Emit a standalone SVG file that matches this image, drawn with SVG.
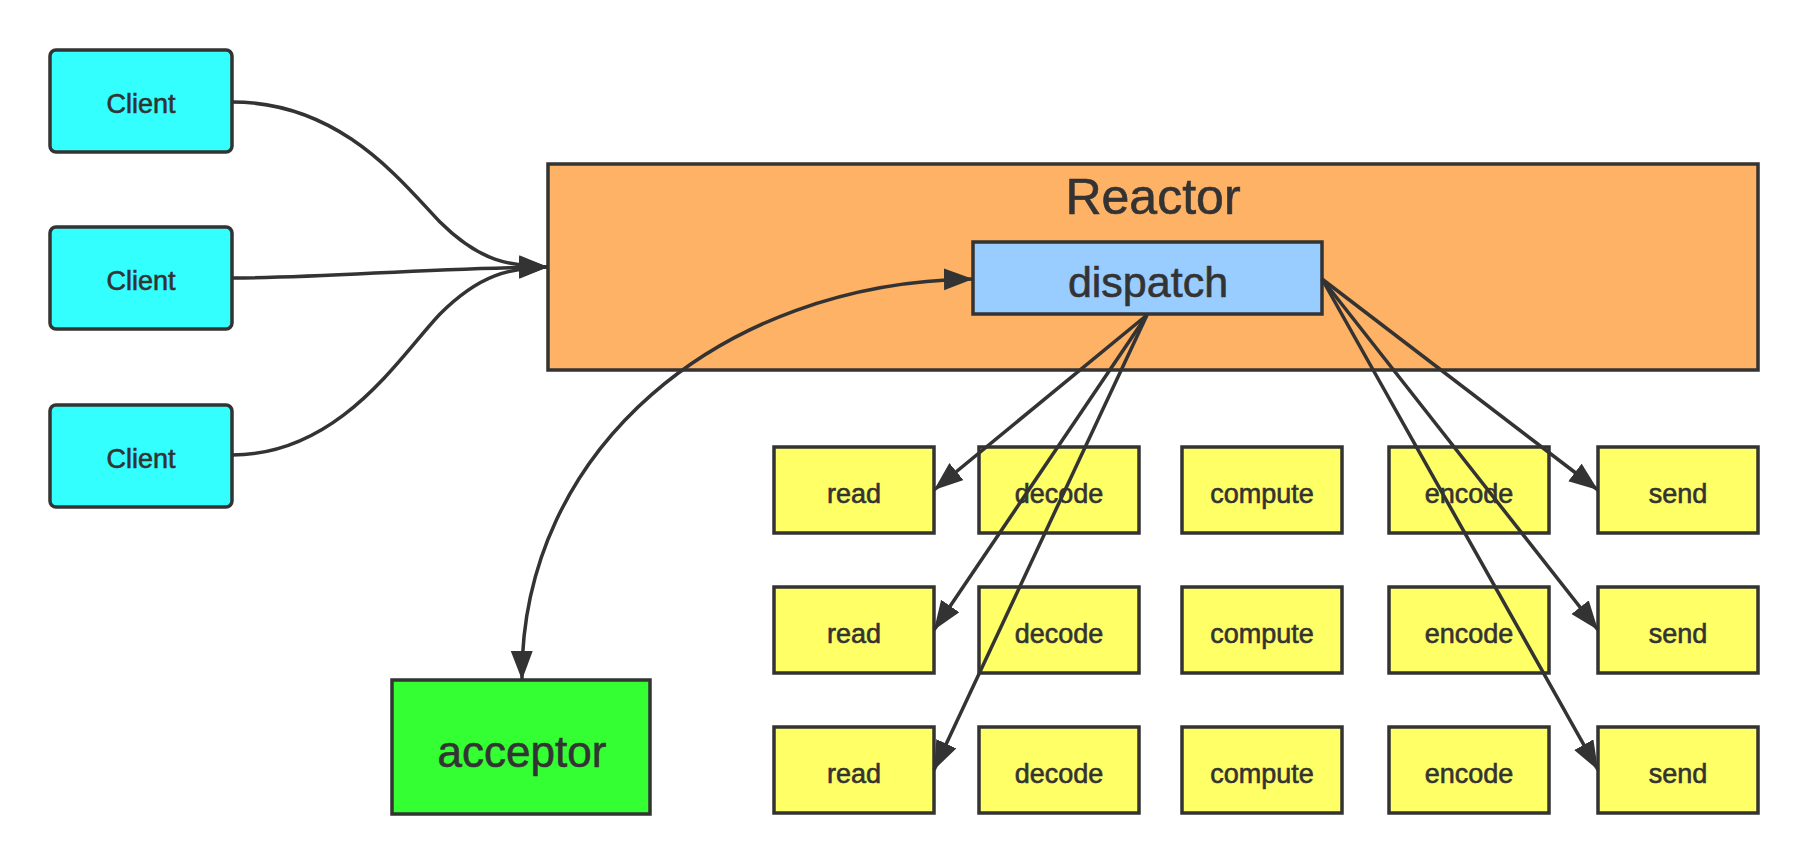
<svg xmlns="http://www.w3.org/2000/svg" width="1808" height="864" viewBox="0 0 1808 864">
<style>
.box{stroke:#333333;stroke-width:3.5}
.client{fill:#33FFFF}
.reactor{fill:#FDB266}
.disp{fill:#99CCFF}
.acc{fill:#33FF33}
.task{fill:#FFFF66}
text{font-family:"Liberation Sans",Arial,Helvetica,sans-serif;fill:#333333;stroke:#333333;stroke-width:0.6;text-anchor:middle}
.t26{font-size:27px}
.conn{fill:none;stroke:#333333;stroke-width:3.5}
</style>
<defs>
<marker id="ah" markerUnits="userSpaceOnUse" markerWidth="30" markerHeight="24" refX="29" refY="11" orient="auto">
<path d="M0,0 L29,11 L0,22 z" fill="#333333"/>
</marker>
<marker id="ahs" markerUnits="userSpaceOnUse" markerWidth="30" markerHeight="24" refX="29" refY="11" orient="auto-start-reverse">
<path d="M0,0 L29,11 L0,22 z" fill="#333333"/>
</marker>
</defs>
<rect width="1808" height="864" fill="#FFFFFF"/>
<g id="client1"><rect class="box client" x="50" y="50" width="182" height="102" rx="6"/><text class="t26" x="141" y="113">Client</text></g>
<g id="client2"><rect class="box client" x="50" y="227" width="182" height="102" rx="6"/><text class="t26" x="141" y="290">Client</text></g>
<g id="client3"><rect class="box client" x="50" y="405" width="182" height="102" rx="6"/><text class="t26" x="141" y="468">Client</text></g>
<g id="reactor"><rect class="box reactor" x="548" y="164" width="1210" height="206"/><text x="1153" y="214" style="font-size:50px">Reactor</text></g>
<g id="dispatch"><rect class="box disp" x="973" y="242" width="349" height="72"/><text x="1148" y="297" style="font-size:43px">dispatch</text></g>
<g id="acceptor"><rect class="box acc" x="392" y="680" width="258" height="134"/><text x="522" y="767" style="font-size:44px">acceptor</text></g>
<g id="read1"><rect class="box task" x="774" y="447" width="160" height="86"/><text class="t26" x="854" y="503">read</text></g>
<g id="decode1"><rect class="box task" x="979" y="447" width="160" height="86"/><text class="t26" x="1059" y="503">decode</text></g>
<g id="compute1"><rect class="box task" x="1182" y="447" width="160" height="86"/><text class="t26" x="1262" y="503">compute</text></g>
<g id="encode1"><rect class="box task" x="1389" y="447" width="160" height="86"/><text class="t26" x="1469" y="503">encode</text></g>
<g id="send1"><rect class="box task" x="1598" y="447" width="160" height="86"/><text class="t26" x="1678" y="503">send</text></g>
<g id="read2"><rect class="box task" x="774" y="587" width="160" height="86"/><text class="t26" x="854" y="643">read</text></g>
<g id="decode2"><rect class="box task" x="979" y="587" width="160" height="86"/><text class="t26" x="1059" y="643">decode</text></g>
<g id="compute2"><rect class="box task" x="1182" y="587" width="160" height="86"/><text class="t26" x="1262" y="643">compute</text></g>
<g id="encode2"><rect class="box task" x="1389" y="587" width="160" height="86"/><text class="t26" x="1469" y="643">encode</text></g>
<g id="send2"><rect class="box task" x="1598" y="587" width="160" height="86"/><text class="t26" x="1678" y="643">send</text></g>
<g id="read3"><rect class="box task" x="774" y="727" width="160" height="86"/><text class="t26" x="854" y="783">read</text></g>
<g id="decode3"><rect class="box task" x="979" y="727" width="160" height="86"/><text class="t26" x="1059" y="783">decode</text></g>
<g id="compute3"><rect class="box task" x="1182" y="727" width="160" height="86"/><text class="t26" x="1262" y="783">compute</text></g>
<g id="encode3"><rect class="box task" x="1389" y="727" width="160" height="86"/><text class="t26" x="1469" y="783">encode</text></g>
<g id="send3"><rect class="box task" x="1598" y="727" width="160" height="86"/><text class="t26" x="1678" y="783">send</text></g>
<g id="connectors">
<path class="conn" d="M232,102 C340,102 400,180 440,222 C480,262 510,266 548,267" marker-end="url(#ah)"/>
<path class="conn" d="M232,278 C330,278 420,268 548,267" marker-end="url(#ah)"/>
<path class="conn" d="M232,455 C340,455 400,356 440,314 C480,274 510,268 548,267" marker-end="url(#ah)"/>
<path class="conn" d="M522,680 C520,450 720,282 973,279" marker-start="url(#ahs)" marker-end="url(#ah)"/>
<path class="conn" d="M1147,315 L934,490" marker-end="url(#ah)"/>
<path class="conn" d="M1147,315 L934,630" marker-end="url(#ah)"/>
<path class="conn" d="M1147,315 L934,770" marker-end="url(#ah)"/>
<path class="conn" d="M1322,279 L1598,490" marker-end="url(#ah)"/>
<path class="conn" d="M1322,279 L1598,630" marker-end="url(#ah)"/>
<path class="conn" d="M1322,279 L1598,770" marker-end="url(#ah)"/>
</g>
</svg>
